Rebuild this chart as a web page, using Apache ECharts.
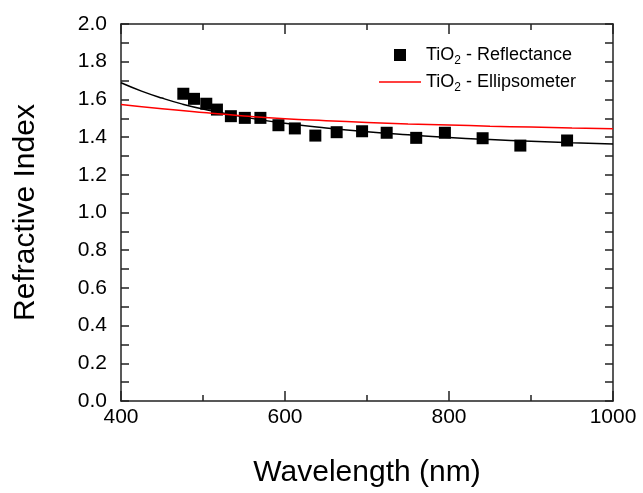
<!DOCTYPE html>
<html>
<head>
<meta charset="utf-8">
<script src="https://cdn.jsdelivr.net/npm/echarts@6/dist/echarts.min.js"></script>
<style>html,body{margin:0;padding:0;background:#fff}#c{width:643px;height:493px}</style>
</head>
<body>
<div id="c"></div>
<script>
// Reflectance data (wavelength nm, refractive index)
var reflWavelength = [476, 489, 504, 517, 534, 551, 570, 592, 612, 637, 663, 694, 724, 760, 795, 841, 887, 944];
var reflIndex      = [1.630, 1.603, 1.577, 1.546, 1.511, 1.502, 1.502, 1.463, 1.446, 1.408, 1.426, 1.431, 1.423, 1.396, 1.423, 1.394, 1.355, 1.382];
// Fit curve through reflectance (black line)
var fitWavelength = [400, 425, 450, 475, 500, 550, 600, 650, 700, 750, 800, 850, 900, 950, 1000];
var fitIndex      = [1.688, 1.644, 1.607, 1.575, 1.549, 1.506, 1.473, 1.448, 1.428, 1.412, 1.398, 1.387, 1.378, 1.370, 1.364];
// Ellipsometer curve (red line)
var ellWavelength = [400, 450, 500, 550, 600, 650, 700, 750, 800, 850, 900, 950, 1000];
var ellIndex      = [1.573, 1.550, 1.530, 1.512, 1.497, 1.487, 1.478, 1.470, 1.464, 1.458, 1.453, 1.448, 1.444];
// Axis ticks
var xTicks = [400, 600, 800, 1000];
var yTicks = [0.0, 0.2, 0.4, 0.6, 0.8, 1.0, 1.2, 1.4, 1.6, 1.8, 2.0];

function zip(a, b) { return a.map(function (v, i) { return [v, b[i]]; }); }

var FONT = 'Liberation Sans, Arial, sans-serif';
var AX = '#222';

var chart = echarts.init(document.getElementById('c'), null, {renderer: 'canvas'});

function xAxisDef(show, pos) {
  return {
    type: 'value', position: pos, min: xTicks[0], max: xTicks[xTicks.length - 1],
    interval: xTicks[1] - xTicks[0],
    name: show ? 'Wavelength (nm)' : '', nameLocation: 'middle', nameGap: 57,
    nameTextStyle: {fontFamily: FONT, fontSize: 30, color: '#000'},
    axisLine: {show: true, onZero: false, lineStyle: {color: AX, width: 1.5}},
    axisTick: {show: true, inside: true, length: 10, lineStyle: {color: AX, width: 1.5}},
    minorTick: {show: true, splitNumber: 2, length: 6, lineStyle: {color: AX, width: 1.5}},
    axisLabel: {show: show, fontFamily: FONT, fontSize: 21, color: '#000', margin: 6,
      formatter: function (v) { return String(v); }},
    splitLine: {show: false}, minorSplitLine: {show: false}
  };
}
function yAxisDef(show, pos) {
  return {
    type: 'value', position: pos, min: yTicks[0], max: yTicks[yTicks.length - 1],
    interval: yTicks[1] - yTicks[0],
    name: show ? 'Refractive Index' : '', nameLocation: 'middle', nameGap: 80,
    nameTextStyle: {fontFamily: FONT, fontSize: 30, color: '#000'},
    axisLine: {show: true, onZero: false, lineStyle: {color: AX, width: 1.5}},
    axisTick: {show: true, inside: true, length: 8, lineStyle: {color: AX, width: 1.5}},
    minorTick: {show: true, splitNumber: 2, length: 8, lineStyle: {color: AX, width: 1.5}},
    axisLabel: {show: show, fontFamily: FONT, fontSize: 21, color: '#000', margin: 14,
      formatter: function (v) { return v.toFixed(1); }},
    splitLine: {show: false}, minorSplitLine: {show: false}
  };
}

var rich = {
  n: {fontFamily: FONT, fontSize: 18, color: '#000'},
  s: {fontFamily: FONT, fontSize: 12, color: '#000', padding: [12, 0, 0, 0]}
};

chart.setOption({
  animation: false,
  backgroundColor: '#fff',
  grid: {left: 121, right: 30, top: 24, bottom: 92},
  xAxis: [xAxisDef(true, 'bottom'), xAxisDef(false, 'top')],
  yAxis: [yAxisDef(true, 'left'), yAxisDef(false, 'right')],
  legend: {
    orient: 'vertical', left: 374, top: 41, itemWidth: 42, itemHeight: 12, itemGap: 6,
    selectedMode: false,
    data: [
      {name: 'Reflectance', icon: 'path://M0,0L10,0L10,10L0,10Z'},
      {name: 'Ellipsometer', icon: 'path://M0,0L40,0L40,1.5L0,1.5Z'}
    ],
    formatter: function (name) { return '{n|TiO}{s|2}{n| - ' + name + '}'; },
    textStyle: {rich: rich}
  },
  series: [
    {name: 'Fit', type: 'line', smooth: true, symbol: 'none', data: zip(fitWavelength, fitIndex),
     lineStyle: {color: '#000', width: 1.5}, z: 2},
    {name: 'Reflectance', type: 'scatter', symbol: 'rect', symbolSize: 12, data: zip(reflWavelength, reflIndex),
     itemStyle: {color: '#000', opacity: 1}, z: 3},
    {name: 'Ellipsometer', type: 'line', smooth: true, symbol: 'none', data: zip(ellWavelength, ellIndex),
     lineStyle: {color: '#ff0000', width: 1.5}, itemStyle: {color: '#ff0000'}, z: 4}
  ]
});
</script>
</body>
</html>
